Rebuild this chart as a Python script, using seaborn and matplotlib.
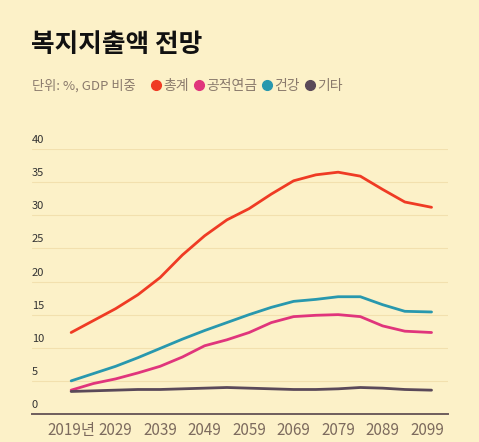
import matplotlib
matplotlib.use("Agg")
import matplotlib.pyplot as plt
import matplotlib.transforms as mtransforms
from matplotlib.lines import Line2D
import pandas as pd
import seaborn as sns

# values (% of GDP)
years = [2019, 2024, 2029, 2034, 2039, 2044, 2049, 2054, 2059,
         2064, 2069, 2074, 2079, 2084, 2089, 2094, 2100]
total = [12.3, 14.1, 15.9, 18.0, 20.6, 24.0, 26.9, 29.3, 31.0,
         33.2, 35.2, 36.1, 36.5, 35.9, 33.9, 32.0, 31.2]
pension = [3.6, 4.6, 5.3, 6.2, 7.2, 8.6, 10.3, 11.2, 12.3,
           13.8, 14.7, 14.9, 15.0, 14.7, 13.3, 12.5, 12.3]
health = [5.0, 6.1, 7.2, 8.5, 9.9, 11.3, 12.6, 13.8, 15.0,
          16.1, 17.0, 17.3, 17.7, 17.7, 16.5, 15.5, 15.4]
other = [3.4, 3.5, 3.6, 3.7, 3.7, 3.8, 3.9, 4.0, 3.9,
         3.8, 3.7, 3.7, 3.8, 4.0, 3.9, 3.7, 3.6]

series_names = ["총계", "공적연금", "건강", "기타"]
colors = ["#ef3b24", "#e0357c", "#2898ae", "#5a4959"]
xticks = [2019, 2029, 2039, 2049, 2059, 2069, 2079, 2089, 2099]
xticklabels = ["2019년", "2029", "2039", "2049", "2059", "2069", "2079", "2089", "2099"]
yticks = [0, 5, 10, 15, 20, 25, 30, 35, 40]

bg = "#fcf1c8"
df = pd.concat([
    pd.DataFrame({"year": years, "value": vals, "kind": name})
    for name, vals in zip(series_names, [total, pension, health, other])
])

sns.set_theme(style="white")
plt.rcParams["font.family"] = ["Noto Sans CJK KR", "DejaVu Sans"]

fig = plt.figure(figsize=(4.79, 4.42), dpi=100, facecolor=bg)
W, H = 479, 442
ax = fig.add_axes([32 / W, (H - 414) / H, (448 - 32) / W, (414 - 149) / H])
ax.set_facecolor(bg)

sns.lineplot(data=df, x="year", y="value", hue="kind", palette=colors,
             hue_order=series_names, linewidth=2.0, ax=ax, legend=False)

ax.set_xlim(2010.2, 2103.7)
ax.set_ylim(0, 40)
ax.set_xlabel("")
ax.set_ylabel("")

for s in ["top", "right", "left"]:
    ax.spines[s].set_visible(False)
ax.spines["bottom"].set_color("#6e5d5d")
ax.spines["bottom"].set_linewidth(1.4)

for v in yticks[1:]:
    ax.axhline(v, color="#f2e0ae", linewidth=0.8, zorder=0)

ax.set_yticks([])
ax.set_xticks(xticks)
ax.set_xticklabels(xticklabels)
ax.tick_params(axis="x", direction="in", length=5, width=1, color="#7a6a66",
               labelsize=11, labelcolor="#7d6b5e", pad=6)

trans = mtransforms.blended_transform_factory(ax.transAxes, ax.transData)
offs = mtransforms.offset_copy(trans, fig=fig, x=0, y=4, units="dots")
for v in yticks:
    ax.text(0, v, str(v), transform=offs, ha="left", va="bottom",
            fontsize=8, color="#333333")

fig.text(31 / W, 1 - 44 / H, "복지지출액 전망", fontsize=18.5, fontweight="black",
         color="#111111", va="center", ha="left")
fig.text(32 / W, 1 - 86 / H, "단위: %, GDP 비중", fontsize=9.5,
         color="#8a7a6c", va="center", ha="left")

handles = [Line2D([], [], marker="o", linestyle="", markersize=7,
                  markerfacecolor=c, markeredgecolor=c) for c in colors]
fig.legend(handles, series_names, loc="center left",
           bbox_to_anchor=(152 / W, 1 - 86 / H), ncol=4, frameon=False,
           handlelength=0.6, handletextpad=0.2, columnspacing=0.45,
           fontsize=10, labelcolor="#8a7a6c", borderpad=0, borderaxespad=0)

fig.savefig("out.png", dpi=100, facecolor=bg)
